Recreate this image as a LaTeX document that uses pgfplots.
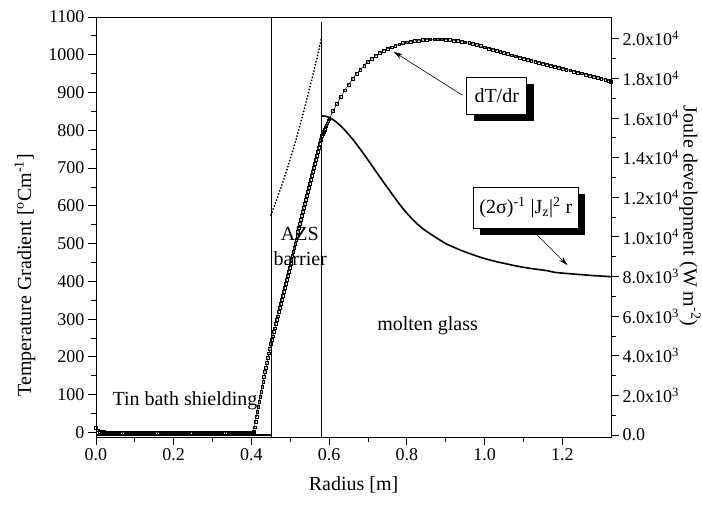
\documentclass[border=0pt]{standalone}
\usepackage{pgfplots}
\pgfplotsset{compat=1.18}
\usepackage{fontspec}
\setmainfont{Liberation Serif}
\usetikzlibrary{shadows,arrows.meta}
\begin{document}
\begin{tikzpicture}
\path[use as bounding box] (-96pt,-67pt) rectangle (606pt,437pt);
\begin{axis}[
  width=515pt, height=420pt, scale only axis,
  xmin=0, xmax=1.325, ymin=-12, ymax=1100,
  xtick={0,0.2,...,1.2}, minor x tick num=1,
  ytick={0,100,...,1100}, minor y tick num=1,
  xtick pos=lower, ytick pos=left,
  tick align=outside,
  major tick length=8pt, minor tick length=4.5pt,
  every tick/.style={line width=0.9pt, black},
  axis line style={line width=0.9pt},
  x tick label style={/pgf/number format/.cd, fixed, fixed zerofill, precision=1},
  y tick label style={/pgf/number format/.cd, 1000 sep={}},
  /pgf/number format/assume math mode=true,
  tick label style={font=\fontsize{18}{18}\selectfont},
  xlabel={Radius [m]},
  ylabel={Temperature Gradient [\textsuperscript{o}Cm\textsuperscript{-1}]},
  every axis x label/.style={at={(axis description cs:0.5,0)}, anchor=center, yshift=-48pt, font=\fontsize{20}{20}\selectfont},
  every axis y label/.style={at={(axis description cs:-0.1379,0.385)}, rotate=90, anchor=center, font=\fontsize{20}{20}\selectfont},
]
\addplot[black, line width=0.5pt, mark=square, mark size=1.4pt, mark options={solid, fill=white, line width=0.45pt}] coordinates {
(0.000,12) (0.005,6) (0.010,3) (0.015,2) (0.020,1) (0.025,0) (0.030,0) (0.035,0) (0.040,0) (0.045,0) (0.050,0)
(0.055,0) (0.060,0) (0.065,0) (0.070,0) (0.075,0) (0.080,0) (0.085,0) (0.090,0) (0.095,0) (0.100,0)
(0.105,0) (0.110,0) (0.115,0) (0.120,0) (0.125,0) (0.130,0) (0.135,0) (0.140,0) (0.145,0) (0.150,0)
(0.155,0) (0.160,0) (0.165,0) (0.170,0) (0.175,0) (0.180,0) (0.185,0) (0.190,0) (0.195,0) (0.200,0)
(0.205,0) (0.210,0) (0.215,0) (0.220,0) (0.225,0) (0.230,0) (0.235,0) (0.240,0) (0.245,0) (0.250,0)
(0.255,0) (0.260,0) (0.265,0) (0.270,0) (0.275,0) (0.280,0) (0.285,0) (0.290,0) (0.295,0) (0.300,0)
(0.305,0) (0.310,0) (0.315,0) (0.320,0) (0.325,0) (0.330,0) (0.335,0) (0.340,0) (0.345,0) (0.350,0)
(0.355,0) (0.360,0) (0.365,0) (0.370,0) (0.375,0) (0.380,0) (0.385,0) (0.390,0) (0.395,0)
(0.4000,0) (0.4025,0) (0.4050,3) (0.4075,14) (0.4100,28) (0.4125,42) (0.4150,55) (0.4175,68) (0.4200,82)
(0.4225,95) (0.4250,108) (0.4275,121) (0.4300,134) (0.4325,147) (0.4350,160) (0.4375,172) (0.4400,185)
(0.4425,197) (0.4450,210) (0.4475,222) (0.4500,234) (0.4525,245) (0.4550,255) (0.4575,266) (0.4600,276)
(0.4625,287) (0.4650,298) (0.4675,308) (0.4700,319) (0.4725,330) (0.4750,340) (0.4775,351) (0.4800,361)
(0.4825,372) (0.4850,383) (0.4875,393) (0.4900,404) (0.4925,415) (0.4950,425) (0.4975,436) (0.5000,446)
(0.5025,457) (0.5050,468) (0.5075,478) (0.5100,489) (0.5125,499) (0.5150,510) (0.5175,521) (0.5200,531)
(0.5225,542) (0.5250,552) (0.5275,563) (0.5300,574) (0.5325,584) (0.5350,595) (0.5375,606) (0.5400,616)
(0.5425,627) (0.5450,637) (0.5475,648) (0.5500,659) (0.5525,669) (0.5550,680) (0.5575,690) (0.5600,701)
(0.5625,712) (0.5650,722) (0.5675,733) (0.5700,744) (0.5725,754) (0.5750,765) (0.5775,775) (0.5800,785)
(0.5825,791) (0.5850,797) (0.5875,802) (0.5900,808) (0.5925,813) (0.5950,819) (0.5975,825) (0.6000,830)
(0.61,851) (0.62,870) (0.63,889) (0.64,906) (0.65,921) (0.66,936) (0.67,949) (0.68,961) (0.69,972)
(0.70,982) (0.71,990) (0.72,998) (0.73,1005) (0.74,1011) (0.75,1016) (0.76,1020) (0.77,1024) (0.78,1028)
(0.79,1031) (0.80,1033) (0.81,1035) (0.82,1037) (0.83,1038) (0.84,1039) (0.85,1040) (0.86,1041) (0.87,1041)
(0.88,1041) (0.89,1041) (0.90,1040) (0.91,1039) (0.92,1038) (0.93,1037) (0.94,1035) (0.95,1033) (0.96,1031)
(0.97,1029) (0.98,1026) (0.99,1023) (1.00,1020) (1.01,1017) (1.02,1014) (1.03,1011) (1.04,1008) (1.05,1005)
(1.06,1002) (1.07,999) (1.08,996) (1.09,993) (1.10,990) (1.11,987) (1.12,985) (1.13,982) (1.14,979)
(1.15,977) (1.16,974) (1.17,972) (1.18,969) (1.19,966) (1.20,964) (1.21,961) (1.22,959) (1.23,956)
(1.24,953) (1.25,951) (1.26,948) (1.27,945) (1.28,942) (1.29,939) (1.30,937) (1.31,934) (1.32,931) (1.325,929)
};
\addplot[black, line width=0.7pt] coordinates {(0.45,-12) (0.45,1100)};
\addplot[black, line width=0.7pt] coordinates {(0.58,-12) (0.58,1088)};
\node[font=\fontsize{20}{20}\selectfont, anchor=base west] at (axis cs:0.0335,71.6) {Tin bath shielding};
\node[font=\fontsize{20}{20}\selectfont, anchor=base] at (axis cs:0.5245,509) {AZS};
\node[font=\fontsize{20}{20}\selectfont, anchor=base] at (axis cs:0.5255,443) {barrier};
\node[font=\fontsize{20}{20}\selectfont, anchor=base] at (axis cs:0.853,270) {molten glass};
\draw[-{Stealth[length=9pt,width=5pt]}, line width=0.6pt] (axis cs:0.9425,893) -- (axis cs:0.766,1008);
\draw[-{Stealth[length=9pt,width=5pt]}, line width=0.6pt] (axis cs:1.1358,522) -- (axis cs:1.2131,443);
\node[font=\fontsize{20}{20}\selectfont, draw, line width=0.6pt, fill=white, minimum width=60pt, minimum height=37pt, inner sep=0pt,
  drop shadow={shadow xshift=7pt, shadow yshift=-7pt, fill=black, opacity=1}] at (axis cs:1.031,892) {dT/dr};
\node[font=\fontsize{20}{20}\selectfont, draw, line width=0.6pt, fill=white, minimum width=105pt, minimum height=41pt, inner sep=0pt,
  drop shadow={shadow xshift=7pt, shadow yshift=-7pt, fill=black, opacity=1}] at (axis cs:1.106,596)
  {(2σ)\textsuperscript{-1} |J\textsubscript{z}|\textsuperscript{2} r};
\end{axis}
\begin{axis}[
  width=515pt, height=420pt, scale only axis,
  xmin=0, xmax=1.325, ymin=-100, ymax=21100,
  axis x line=none, axis y line*=right,
  scaled y ticks=false,
  ytick={0,2000,...,20000}, minor y tick num=1,
  yticklabels={0.0, 2.0x10\textsuperscript{3}, 4.0x10\textsuperscript{3}, 6.0x10\textsuperscript{3}, 8.0x10\textsuperscript{3}, 1.0x10\textsuperscript{4}, 1.2x10\textsuperscript{4}, 1.4x10\textsuperscript{4}, 1.6x10\textsuperscript{4}, 1.8x10\textsuperscript{4}, 2.0x10\textsuperscript{4}},
  tick align=outside,
  major tick length=8pt, minor tick length=4.5pt,
  every tick/.style={line width=0.9pt, black},
  axis line style={line width=0.9pt},
  tick label style={font=\fontsize{18}{18}\selectfont},
  ylabel={Joule development (W m\textsuperscript{-2})},
  every axis y label/.style={at={(axis description cs:1.1534,0.526)}, rotate=-90, anchor=center, font=\fontsize{20}{20}\selectfont},
]
\addplot[black, line width=1.2pt] coordinates {(0,0) (0.45,0)};
\addplot[black, line width=2pt, dash pattern=on 0pt off 3.2pt, line cap=round] coordinates {
(0.450,11105) (0.465,11888) (0.480,12721) (0.495,13629) (0.510,14589) (0.525,15649) (0.540,16759) (0.560,18324) (0.570,19157) (0.580,20041)
};
\addplot[black, line width=1.6pt, smooth] coordinates {
(0.580,16105) (0.590,16095) (0.600,16032) (0.610,15916) (0.620,15769) (0.630,15591) (0.640,15392) (0.650,15171)
(0.660,14940) (0.670,14688) (0.680,14426) (0.690,14153) (0.700,13880) (0.710,13597) (0.720,13314) (0.730,13030)
(0.740,12757) (0.750,12484) (0.760,12212) (0.770,11939) (0.780,11676) (0.790,11425) (0.800,11194) (0.820,10774)
(0.840,10428) (0.860,10155) (0.880,9903) (0.900,9661) (0.920,9483) (0.940,9315) (0.960,9168) (0.980,9032)
(1.000,8906) (1.020,8801) (1.040,8706) (1.060,8622) (1.080,8538) (1.100,8465) (1.120,8402) (1.140,8350)
(1.160,8297) (1.180,8213) (1.200,8171) (1.220,8140) (1.240,8108) (1.260,8077) (1.280,8045) (1.300,8024) (1.325,7993)
};
\end{axis}
\end{tikzpicture}
\end{document}
